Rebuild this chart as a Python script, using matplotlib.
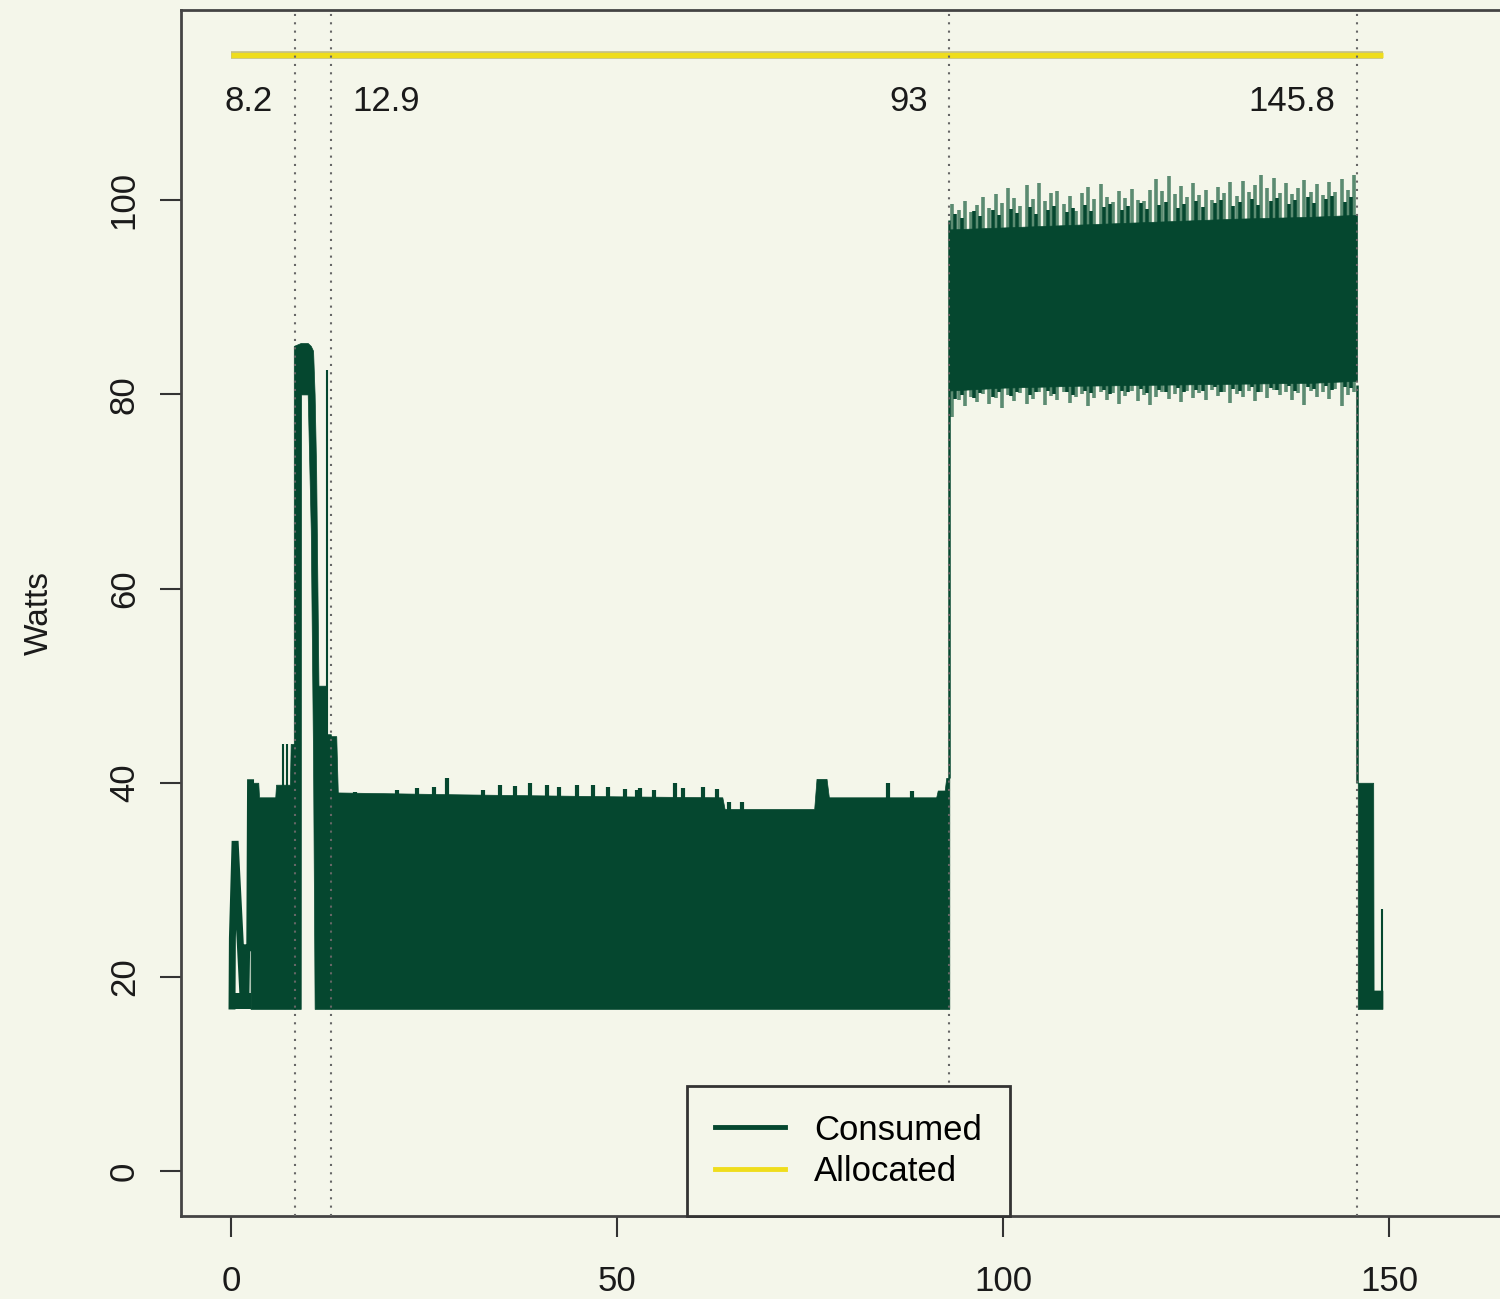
import numpy as np
import matplotlib
matplotlib.use("Agg")
import matplotlib.pyplot as plt
from matplotlib.lines import Line2D

plt.rcParams['font.family'] = ['Liberation Sans', 'DejaVu Sans']

# ---- data (time in s, power in W) ----
BASE = 16.7  # floor of the oscillating consumed signal

# start-up trace before the first band
early_x = [0.1, 0.15, 0.5, 1.5, 1.9, 2.0, 2.4, 2.5]
early_y = [17.0, 24.0, 34.0, 18.3, 18.0, 23.0, 23.0, 40.0]
early_floor = 18.3

# first band, 2.5 .. 8.2
band1_x = [2.5, 3.5, 3.6, 5.7, 5.8, 7.6, 7.7, 8.3]
band1_hi = [40.0, 40.0, 38.5, 38.5, 39.8, 39.8, 44.0, 44.0]

# hump around 8.2 .. 12.9 (outer and inner edge)
hump_x = [8.1, 9.0, 9.05, 9.9, 10.3, 10.6, 10.8, 11.0, 11.3, 12.2, 12.4, 12.9]
hump_hi = [85.0, 85.3, 85.3, 85.3, 85.0, 84.5, 80.0, 72.0, 50.0, 50.0, 45.0, 45.0]
hump_lo = [16.7, 16.7, 80.0, 80.0, 66.0, 42.0, 16.7, 16.7, 16.7, 16.7, 16.7, 16.7]

# main low band, 12.9 .. 93
main_x = [12.9, 13.6, 13.8, 30.0, 50.0, 63.6, 63.9, 75.5, 75.8, 77.1, 77.4,
          91.3, 91.5, 92.4, 92.6, 93.0]
main_hi = [44.8, 44.8, 39.0, 38.8, 38.6, 38.5, 37.3, 37.3, 40.4, 40.4, 38.5,
           38.5, 39.2, 39.2, 40.5, 40.5]
bump_x = [16.0, 21.5, 24.0, 26.3, 28.0, 32.6, 34.8, 36.8, 38.7, 40.9, 42.4,
          44.8, 46.9, 48.8, 51.0, 52.6, 53.0, 54.7, 57.5, 58.5, 61.1, 62.9,
          64.5, 66.2, 85.1, 88.2]
bump_top = [39.0, 39.3, 39.5, 39.6, 40.5, 39.3, 39.8, 39.7, 40.0, 39.8, 39.6,
            39.8, 39.8, 39.6, 39.4, 39.3, 39.5, 39.3, 40.0, 39.5, 39.6, 39.4,
            38.0, 38.0, 40.0, 39.2]

# high band, 93 .. 145.8
high_x = [93.0, 100.0, 110.0, 120.0, 130.0, 140.0, 145.8]
high_hi = [97.0, 97.2, 97.5, 97.8, 98.1, 98.3, 98.5]
high_lo = [80.4, 80.7, 80.9, 81.0, 81.1, 81.2, 81.4]
spike_x = [93.4, 94.2, 95.0, 95.8, 96.6, 97.4, 98.2, 99.0, 99.8, 100.6,
           101.4, 102.2, 103.0, 103.8, 104.6, 105.4, 106.2, 107.0, 107.8, 108.6,
           109.4, 110.2, 111.0, 111.8, 112.6, 113.4, 114.2, 115.0, 115.8, 116.6,
           117.4, 118.2, 119.0, 119.8, 120.6, 121.4, 122.2, 123.0, 123.8, 124.6,
           125.4, 126.2, 127.0, 127.8, 128.6, 129.4, 130.2, 131.0, 131.8, 132.6,
           133.4, 134.2, 135.0, 135.8, 136.6, 137.4, 138.2, 139.0, 139.8, 140.6,
           141.4, 142.2, 143.0, 143.8, 144.6, 145.4]
spike_top = [99.6, 99.0, 99.9, 98.8, 99.5, 100.3, 99.2, 100.6, 99.7, 101.3,
             100.2, 99.4, 101.6, 100.1, 101.8, 99.9, 100.7, 101.0, 99.6, 100.4,
             98.9, 100.8, 101.4, 100.1, 101.7, 100.3, 99.8, 101.0, 100.2, 101.2,
             100.0, 99.9, 101.1, 102.2, 101.0, 102.5, 100.6, 101.5, 100.3, 101.8,
             100.5, 101.1, 100.0, 101.4, 100.8, 101.9, 100.4, 102.0, 100.9, 101.6,
             102.6, 101.3, 102.3, 100.8, 101.8, 100.6, 101.3, 102.1, 100.9, 101.7,
             100.5, 101.9, 100.9, 102.2, 101.1, 102.6]
spike_bot = [77.7, 79.4, 78.8, 79.7, 79.2, 80.0, 79.0, 79.6, 78.6, 79.9,
             79.3, 80.1, 79.0, 79.5, 80.2, 78.9, 79.8, 79.4, 80.3, 79.1,
             79.7, 80.0, 78.8, 79.6, 80.2, 79.4, 80.1, 79.0, 79.8, 80.4,
             79.3, 79.9, 78.9, 79.7, 80.3, 79.5, 80.0, 79.2, 80.4, 79.6,
             80.1, 79.4, 80.5, 79.8, 80.2, 79.1, 80.0, 79.7, 80.4, 79.3,
             80.2, 79.6, 80.5, 79.9, 80.3, 79.4, 80.1, 78.9, 80.4, 79.7,
             80.2, 79.5, 80.6, 78.8, 79.9, 80.3]
# darker jags right on the edge of the high band core
jag_x = [93.8, 94.6, 96.2, 97.0, 98.6, 99.4, 101.0, 101.8, 103.4, 104.2,
         105.8, 106.6, 108.2, 109.0, 110.6, 111.4, 113.0, 113.8, 115.4, 116.2,
         117.8, 118.6, 120.2, 121.0, 122.6, 123.4, 125.0, 125.8, 127.4, 128.2,
         129.8, 130.6, 132.2, 133.0, 134.6, 135.4, 137.0, 137.8, 139.4, 140.2,
         141.8, 142.6, 144.2, 145.0]
jag_top = [98.6, 98.2, 98.9, 98.4, 99.0, 98.5, 99.1, 98.7, 99.3, 98.6,
           99.0, 99.4, 98.8, 99.2, 99.5, 98.9, 99.3, 99.6, 99.0, 99.4,
           99.7, 99.1, 99.5, 99.8, 99.2, 99.6, 99.9, 99.3, 99.7, 100.0,
           99.4, 99.8, 100.1, 99.5, 99.9, 100.2, 99.6, 100.0, 100.3, 99.7,
           100.1, 100.4, 99.8, 100.3]
jag_bot = [79.5, 79.9, 79.6, 80.1, 79.7, 80.2, 79.8, 80.3, 79.9, 80.2,
           80.4, 80.0, 80.3, 79.9, 80.4, 80.1, 80.5, 80.0, 80.4, 80.2,
           80.6, 80.1, 80.5, 80.3, 80.7, 80.2, 80.5, 80.4, 80.8, 80.3,
           80.6, 80.4, 80.8, 80.3, 80.7, 80.5, 80.9, 80.4, 80.8, 80.6,
           80.9, 80.5, 80.8, 80.7]

# tail after 145.8
tail_x = [145.9, 147.9, 147.95, 149.1]
tail_hi = [40.0, 40.0, 18.6, 18.6]

# single thin spikes and step edges
thin_x = [6.7, 7.2, 12.4, 149.1]
thin_top = [44.0, 44.0, 82.5, 27.0]
trans_x = [93.0, 145.85]
trans_lo = [40.5, 40.0]
trans_hi = [98.0, 81.0]

# allocated power
alloc_x = [0.0, 149.2]
alloc_y = [115.0, 115.0]

# phase markers
mark_x = [8.2, 12.9, 93.0, 145.8]
mark_lbl = ['8.2', '12.9', '93', '145.8']
mark_side = ['right', 'left', 'right', 'right']

GREEN = '#05472f'
LIGHT = '#5b8b71'
YELLOW = '#efdd1c'
BG = '#f4f6ea'

fig = plt.figure(figsize=(15, 12.99), dpi=100, facecolor=BG)
ax = fig.add_axes([0.1207, 0.0639, 0.89, 0.9284], facecolor=BG)

# consumed
ax.plot(early_x, early_y, color=GREEN, lw=5, solid_joinstyle='miter', zorder=3)
ax.fill_between([early_x[0], early_x[-1]], BASE, early_floor, color=GREEN, lw=0, zorder=3)
ax.fill_between(band1_x, BASE, band1_hi, color=GREEN, lw=0.5, edgecolor=GREEN, zorder=3)
ax.fill_between(hump_x, hump_lo, hump_hi, color=GREEN, lw=0.5, edgecolor=GREEN, zorder=3)
ax.fill_between(main_x, BASE, main_hi, color=GREEN, lw=0.5, edgecolor=GREEN, zorder=3)
ax.vlines(bump_x, 37, bump_top, color=GREEN, lw=3, zorder=3)
ax.vlines(spike_x, 95, spike_top, color=LIGHT, lw=2.6, zorder=2)
ax.vlines(spike_x, spike_bot, 84, color=LIGHT, lw=2.6, zorder=2)
ax.vlines(jag_x, 95, jag_top, color=GREEN, lw=2.6, zorder=2.5)
ax.vlines(jag_x, jag_bot, 84, color=GREEN, lw=2.6, zorder=2.5)
ax.fill_between(high_x, high_lo, high_hi, color=GREEN, lw=0.5, edgecolor=GREEN, zorder=3)
ax.fill_between(tail_x, BASE, tail_hi, color=GREEN, lw=0.5, edgecolor=GREEN, zorder=3)
ax.vlines(thin_x, BASE, thin_top, color=GREEN, lw=1.5, zorder=3)
ax.vlines(trans_x, trans_lo, trans_hi, color=GREEN, lw=1.8, zorder=3)

# allocated
ax.plot(alloc_x, alloc_y, color='#c4bf86', lw=5.5, solid_capstyle='butt', zorder=3)
ax.plot(alloc_x, alloc_y, color=YELLOW, lw=3.8, solid_capstyle='butt', zorder=3)

# phase markers
for xm, lbl, side in zip(mark_x, mark_lbl, mark_side):
    ax.axvline(xm, color='#666666', ls=(0, (1, 3)), lw=1.5, zorder=4)
    off = -2.8 if side == 'right' else 2.8
    ax.text(xm + off, 110.2, lbl, ha=side, va='center', fontsize=25, color='#1a1a1a')

ax.set_xlim(-6.5, 166.4)
ax.set_ylim(-4.63, 119.6)
ax.set_xticks([0, 50, 100, 150])
ax.set_yticks([0, 20, 40, 60, 80, 100])
ax.tick_params(axis='both', direction='out', length=15, width=1.5, color='#333333',
               labelsize=25, labelcolor='#1a1a1a')
ax.tick_params(axis='x', pad=20)
ax.tick_params(axis='y', pad=14)
for t in ax.get_yticklabels():
    t.set_rotation(90)
    t.set_va('center')
ax.set_ylabel('Watts', fontsize=24, labelpad=38, color='#1a1a1a')
for s in ax.spines.values():
    s.set_color('#444444')
    s.set_linewidth(2)

handles = [Line2D([], [], color=GREEN, lw=3.5), Line2D([], [], color=YELLOW, lw=3.5)]
leg = ax.legend(handles, ['Consumed', 'Allocated'], loc='lower center',
                bbox_to_anchor=(0.5, 0.0), borderaxespad=0, fontsize=25,
                fancybox=False, framealpha=1, facecolor=BG, edgecolor='#333333',
                handlelength=2.0, handletextpad=0.85, borderpad=0.8, labelspacing=0.25)
leg.get_frame().set_linewidth(2)
leg.set_zorder(5)

fig.savefig('out.png', dpi=100, facecolor=BG)
